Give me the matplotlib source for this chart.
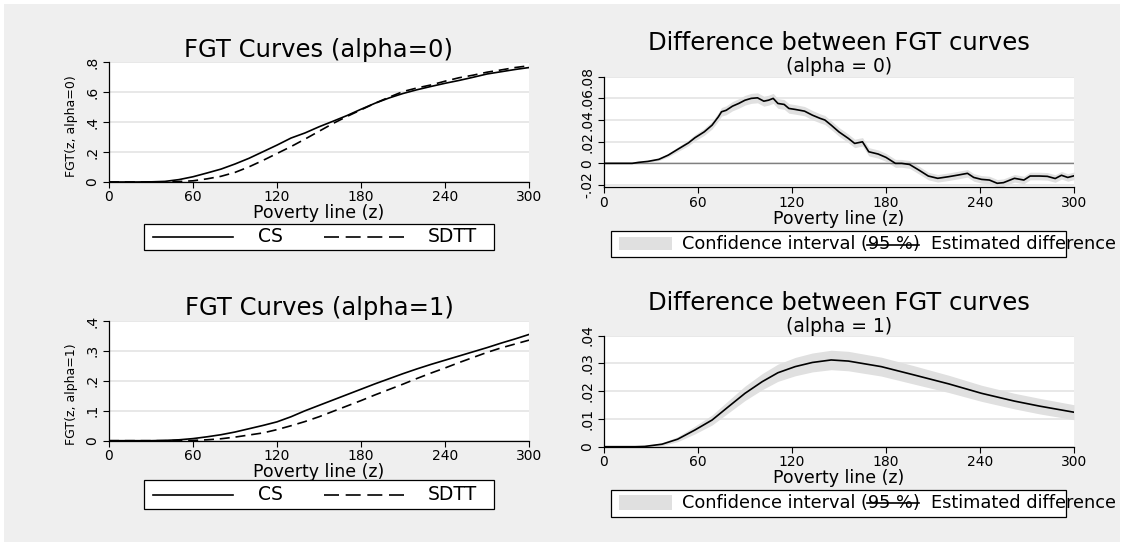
import matplotlib
matplotlib.use('Agg')
import matplotlib.pyplot as plt
from matplotlib.patches import Rectangle
from matplotlib.lines import Line2D

W, H, DPI = 1124, 546, 100
BG = '#efefef'
GRID = '#e4e4e4'
BAND = '#e0e0e0'

# ---------------- data ----------------
x_ticks = [0, 60, 120, 180, 240, 300]
x_tick_labels = ['0', '60', '120', '180', '240', '300']

z_fgt = [0, 10, 20, 30, 40, 50, 60, 70, 80, 90, 100, 110, 120, 130, 140, 150,
         160, 170, 180, 190, 200, 210, 220, 230, 240, 250, 260, 270, 280, 290, 300]
cs_a0 = [0, 0, 0, 0.001, 0.004, 0.016, 0.035, 0.060, 0.086, 0.120, 0.158, 0.202,
         0.246, 0.293, 0.327, 0.368, 0.405, 0.443, 0.485, 0.525, 0.560, 0.590,
         0.615, 0.637, 0.658, 0.677, 0.698, 0.720, 0.735, 0.750, 0.763]
sdtt_a0 = [0, 0, 0, 0, 0, 0.003, 0.008, 0.021, 0.038, 0.064, 0.101, 0.144,
           0.190, 0.236, 0.286, 0.338, 0.390, 0.437, 0.481, 0.525, 0.565, 0.603,
           0.627, 0.647, 0.672, 0.695, 0.712, 0.732, 0.747, 0.763, 0.775]
cs_a1 = [0, 0, 0, 0, 0.001, 0.003, 0.007, 0.013, 0.020, 0.029, 0.040, 0.051,
         0.063, 0.080, 0.100, 0.118, 0.136, 0.154, 0.172, 0.190, 0.207, 0.224,
         0.240, 0.255, 0.269, 0.283, 0.297, 0.311, 0.326, 0.340, 0.355]
sdtt_a1 = [0, 0, 0, 0, 0, 0.0005, 0.001, 0.003, 0.0065, 0.012, 0.019, 0.026,
           0.037, 0.050, 0.064, 0.080, 0.098, 0.116, 0.134, 0.153, 0.171, 0.189,
           0.208, 0.226, 0.243, 0.261, 0.278, 0.295, 0.310, 0.323, 0.336]

z_d0 = [0, 18, 22, 28, 35, 41, 47, 54, 58, 64, 69, 73, 75, 78, 82, 86, 90, 94,
        98, 102, 105, 108, 111, 115, 118, 122, 128, 133, 138, 141, 145, 150,
        156, 160, 165, 169, 175, 180, 186, 190, 195, 201, 207, 213, 220, 226,
        232, 236, 241, 246, 251, 255, 262, 268, 272, 278, 283, 288, 292, 296, 300]
diff_a0 = [0, 0, 0.0009, 0.0018, 0.0037, 0.0076, 0.0129, 0.019, 0.0236, 0.0291,
           0.0353, 0.043, 0.0476, 0.049, 0.0528, 0.0553, 0.0583, 0.060, 0.0605,
           0.0574, 0.0583, 0.060, 0.0553, 0.0544, 0.0507, 0.0498, 0.0482, 0.0445,
           0.0415, 0.040, 0.0353, 0.029, 0.023, 0.0184, 0.0199, 0.0107, 0.0086,
           0.0055, 0, 0, -0.001, -0.0062, -0.0117, -0.0138, -0.0123, -0.0108,
           -0.0092, -0.013, -0.0148, -0.0154, -0.0184, -0.0178, -0.0138, -0.0154,
           -0.0117, -0.0117, -0.012, -0.014, -0.011, -0.013, -0.0115]
ci_hw_a0 = [0, 0, 0.0004, 0.0007, 0.0011, 0.0016, 0.0021, 0.0026, 0.0029, 0.0032,
            0.0035, 0.0038, 0.004, 0.0041, 0.0043, 0.0044, 0.0045, 0.0046, 0.0046,
            0.0046, 0.0046, 0.0046, 0.0045, 0.0045, 0.0044, 0.0044, 0.0043, 0.0043,
            0.0042, 0.0042, 0.0041, 0.004, 0.004, 0.0039, 0.0039, 0.0038, 0.0038,
            0.0037, 0.0037, 0.0036, 0.0036, 0.0036, 0.0035, 0.0035, 0.0035, 0.0035,
            0.0035, 0.0035, 0.0035, 0.0035, 0.0035, 0.0035, 0.0035, 0.0035,
            0.0035, 0.0035, 0.0035, 0.0035, 0.0035, 0.0035, 0.0035]

z_d1 = [0, 20, 26, 37, 47, 58, 69, 79, 90, 101, 111, 122, 133, 145, 156, 177,
        198, 220, 241, 262, 278, 300]
diff_a1 = [0, 0, 0.0001, 0.0009, 0.0027, 0.006, 0.0096, 0.0142, 0.0192, 0.0234,
           0.0266, 0.0288, 0.0303, 0.0312, 0.0308, 0.0288, 0.0258, 0.0226,
           0.0192, 0.0164, 0.0146, 0.0124]
ci_hw_a1 = [0, 0, 0.0002, 0.0005, 0.0009, 0.0014, 0.0018, 0.0022, 0.0026, 0.0029,
            0.0031, 0.0033, 0.0034, 0.0035, 0.0035, 0.0034, 0.0033, 0.0031,
            0.0029, 0.0028, 0.0028, 0.0027]

yt_a0 = [0, 0.2, 0.4, 0.6, 0.8]
yl_a0 = ['0', '.2', '.4', '.6', '.8']
yt_a1 = [0, 0.1, 0.2, 0.3, 0.4]
yl_a1 = ['0', '.1', '.2', '.3', '.4']
yt_d0 = [-0.02, 0, 0.02, 0.04, 0.06, 0.08]
yl_d0 = ['-.02', '0', '.02', '.04', '.06', '.08']
yt_d1 = [0, 0.01, 0.02, 0.03, 0.04]
yl_d1 = ['0', '.01', '.02', '.03', '.04']

ci_label = 'Confidence interval (95 %)'
est_label = 'Estimated difference'

# ---------------- figure ----------------
plt.rcParams['font.family'] = ['DejaVu Sans']
fig = plt.figure(figsize=(W / DPI, H / DPI), dpi=DPI, facecolor='white')
renderer = fig.canvas.get_renderer()


def fx(x):
    return x / W


def fy(y):
    return 1 - y / H


def rect(x0, y0, x1, y1):
    return [fx(x0), fy(y1), fx(x1) - fx(x0), fy(y0) - fy(y1)]


fig.patches.append(Rectangle((fx(4), fy(542)), fx(1120) - fx(4), fy(4) - fy(542),
                             transform=fig.transFigure, facecolor=BG,
                             edgecolor='none', zorder=-10))

DASH_PLOT = (6, 3.5)
DASH_LEG = (9, 4)
LW = 1.2


def style(ax, yt, yl, ylim):
    ax.set_facecolor('white')
    ax.set_xlim(0, 300)
    ax.set_ylim(*ylim)
    ax.set_xticks(x_ticks)
    ax.set_xticklabels(x_tick_labels)
    ax.set_yticks(yt)
    ax.set_yticklabels(yl, rotation=90, va='center')
    for s in ['top', 'right']:
        ax.spines[s].set_visible(False)
    for s in ['left', 'bottom']:
        ax.spines[s].set_linewidth(0.9)
    ax.tick_params(direction='out', length=4, width=0.8, labelsize=10, pad=2)
    ax.tick_params(axis='y', pad=3)
    ax.grid(axis='y', color=GRID, lw=1.2)
    ax.set_axisbelow(True)


def ftext(x, y, s, size, **kw):
    return fig.text(fx(x), fy(y), s, fontsize=size, ha=kw.pop('ha', 'center'),
                    va=kw.pop('va', 'center'), **kw)


def legend_lines(y0, y1):
    yc = (y0 + y1) / 2
    fig.patches.append(Rectangle((fx(144), fy(y1)), fx(494) - fx(144), fy(y0) - fy(y1),
                                 transform=fig.transFigure, facecolor='white',
                                 edgecolor='black', lw=0.9, zorder=5))
    fig.lines.append(Line2D([fx(153), fx(233)], [fy(yc), fy(yc)], transform=fig.transFigure,
                            color='black', lw=LW, zorder=6))
    fig.lines.append(Line2D([fx(324), fx(405)], [fy(yc), fy(yc)], transform=fig.transFigure,
                            color='black', lw=LW, dashes=DASH_LEG, zorder=6))
    ftext(270, yc, 'CS', 13.5, zorder=7)
    ftext(452, yc, 'SDTT', 13.5, zorder=7)


def text_width_px(s, size):
    w, _, _ = renderer.get_text_width_height_descent(
        s, matplotlib.font_manager.FontProperties(family='DejaVu Sans', size=size), ismath=False)
    return w


def legend_band(y0, y1, py0, py1, ly):
    yc = (y0 + y1) / 2
    size = 12.8
    fig.patches.append(Rectangle((fx(610.5), fy(y1)), fx(1066) - fx(610.5), fy(y0) - fy(y1),
                                 transform=fig.transFigure, facecolor='white',
                                 edgecolor='black', lw=0.9, zorder=5))
    fig.patches.append(Rectangle((fx(619), fy(py1)), fx(671.5) - fx(619), fy(py0) - fy(py1),
                                 transform=fig.transFigure, facecolor=BAND,
                                 edgecolor='none', zorder=6))
    x_text = 681.6
    ftext(x_text, yc, ci_label, size, ha='left', zorder=7)
    x_a = x_text + text_width_px(ci_label[:-5], size)
    x_b = x_text + text_width_px(ci_label, size)
    fig.lines.append(Line2D([fx(x_a), fx(x_b)], [fy(ly), fy(ly)], transform=fig.transFigure,
                            color='black', lw=LW, zorder=8))
    ftext(x_b + 12, yc, est_label, size, ha='left', zorder=7)


# Panel 1
ax1 = fig.add_axes(rect(109, 62, 529, 182))
style(ax1, yt_a0, yl_a0, (0, 0.8))
ax1.plot(z_fgt, cs_a0, color='black', lw=LW)
ax1.plot(z_fgt, sdtt_a0, color='black', lw=LW, dashes=DASH_PLOT)
ax1.set_xlabel('Poverty line (z)', fontsize=12.5, labelpad=0)
ftext(319, 50, 'FGT Curves (alpha=0)', 17.5)
ftext(71, 126, 'FGT(z, alpha=0)', 9, rotation=90)
legend_lines(224, 250)

# Panel 3
ax3 = fig.add_axes(rect(109, 321, 529, 440.7))
style(ax3, yt_a1, yl_a1, (0, 0.4))
ax3.plot(z_fgt, cs_a1, color='black', lw=LW)
ax3.plot(z_fgt, sdtt_a1, color='black', lw=LW, dashes=DASH_PLOT)
ax3.set_xlabel('Poverty line (z)', fontsize=12.5, labelpad=0)
ftext(319, 308, 'FGT Curves (alpha=1)', 17.5)
ftext(71, 394, 'FGT(z, alpha=1)', 9, rotation=90)
legend_lines(480, 509)

# Panel 2
ax2 = fig.add_axes(rect(604, 76.7, 1074, 187.3))
style(ax2, yt_d0, yl_d0, (-0.0221, 0.08))
lo0 = [d - h for d, h in zip(diff_a0, ci_hw_a0)]
hi0 = [d + h for d, h in zip(diff_a0, ci_hw_a0)]
ax2.fill_between(z_d0, lo0, hi0, color=BAND, lw=0, zorder=2)
ax2.axhline(0, color='#808080', lw=1.0, zorder=2.5)
ax2.plot(z_d0, diff_a0, color='black', lw=LW, zorder=3)
ax2.set_xlabel('Poverty line (z)', fontsize=12.5, labelpad=0)
ftext(839, 43, 'Difference between FGT curves', 17.5)
ftext(839, 66.5, '(alpha = 0)', 13.5)
legend_band(230.7, 256.7, 237, 250, 245)

# Panel 4
ax4 = fig.add_axes(rect(604, 335.5, 1074, 446.7))
style(ax4, yt_d1, yl_d1, (0, 0.04))
lo1 = [d - h for d, h in zip(diff_a1, ci_hw_a1)]
hi1 = [d + h for d, h in zip(diff_a1, ci_hw_a1)]
ax4.fill_between(z_d1, lo1, hi1, color=BAND, lw=0, zorder=2)
ax4.plot(z_d1, diff_a1, color='black', lw=LW, zorder=3)
ax4.set_xlabel('Poverty line (z)', fontsize=12.5, labelpad=0)
ftext(839, 302.8, 'Difference between FGT curves', 17.5)
ftext(839, 326, '(alpha = 1)', 13.5)
legend_band(490, 516.7, 495, 510, 502.7)

fig.savefig('out.png', dpi=DPI, facecolor=fig.get_facecolor())
